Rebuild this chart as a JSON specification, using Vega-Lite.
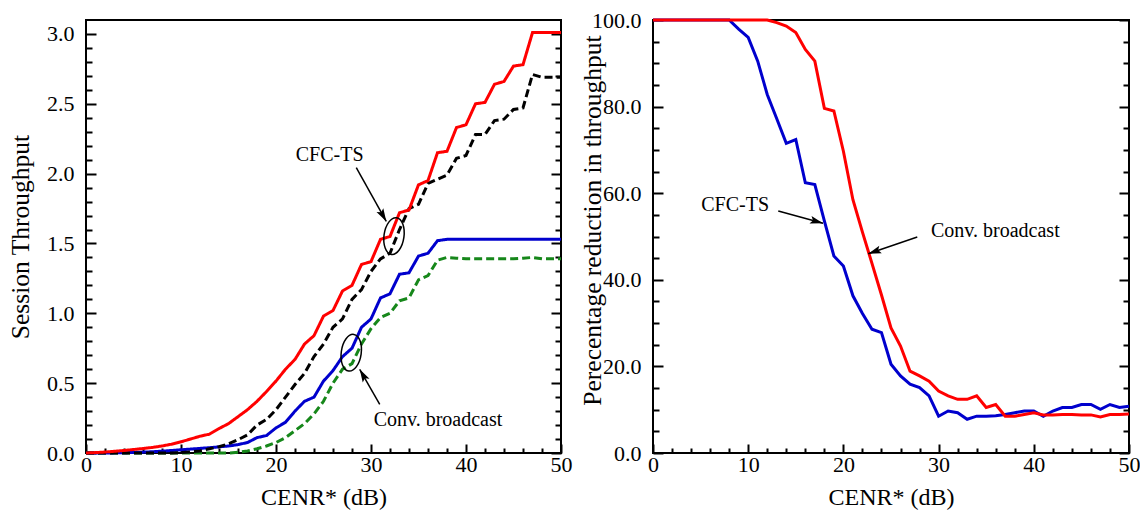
{
  "$schema": "https://vega.github.io/schema/vega-lite/v6.json",
  "background": "white",
  "padding": {"left": 7, "top": 8, "right": 0, "bottom": 0},
  "spacing": 5,
  "config": {
    "font": "Liberation Serif",
    "text": {"font": "Liberation Serif"},
    "view": {"stroke": "black", "strokeWidth": 2},
    "axis": {"domain": false, "grid": false, "tickColor": "black", "tickWidth": 2, "labelColor": "black", "titleColor": "black", "labelFont": "Liberation Serif", "titleFont": "Liberation Serif", "labelFontSize": 22, "titleFontSize": 25.5, "titleFontWeight": "normal", "labelFlush": false, "labelOverlap": false}
  },
  "datasets": {
    "left": [
      {"x":0,"y":0,"s":"Conv. broadcast (dashed)"},{"x":1,"y":0,"s":"Conv. broadcast (dashed)"},{"x":2,"y":0,"s":"Conv. broadcast (dashed)"},{"x":3,"y":0,"s":"Conv. broadcast (dashed)"},{"x":4,"y":0,"s":"Conv. broadcast (dashed)"},{"x":5,"y":0,"s":"Conv. broadcast (dashed)"},{"x":6,"y":0,"s":"Conv. broadcast (dashed)"},{"x":7,"y":0,"s":"Conv. broadcast (dashed)"},{"x":8,"y":0,"s":"Conv. broadcast (dashed)"},{"x":9,"y":0,"s":"Conv. broadcast (dashed)"},{"x":10,"y":0,"s":"Conv. broadcast (dashed)"},{"x":11,"y":0,"s":"Conv. broadcast (dashed)"},{"x":12,"y":0,"s":"Conv. broadcast (dashed)"},{"x":13,"y":0,"s":"Conv. broadcast (dashed)"},{"x":14,"y":0,"s":"Conv. broadcast (dashed)"},{"x":15,"y":0,"s":"Conv. broadcast (dashed)"},{"x":16,"y":0.005,"s":"Conv. broadcast (dashed)"},{"x":17,"y":0.015,"s":"Conv. broadcast (dashed)"},{"x":18,"y":0.03,"s":"Conv. broadcast (dashed)"},{"x":19,"y":0.05,"s":"Conv. broadcast (dashed)"},{"x":20,"y":0.075,"s":"Conv. broadcast (dashed)"},{"x":21,"y":0.11,"s":"Conv. broadcast (dashed)"},{"x":22,"y":0.16,"s":"Conv. broadcast (dashed)"},{"x":23,"y":0.21,"s":"Conv. broadcast (dashed)"},{"x":24,"y":0.28,"s":"Conv. broadcast (dashed)"},{"x":25,"y":0.37,"s":"Conv. broadcast (dashed)"},{"x":26,"y":0.5,"s":"Conv. broadcast (dashed)"},{"x":27,"y":0.6,"s":"Conv. broadcast (dashed)"},{"x":28,"y":0.64,"s":"Conv. broadcast (dashed)"},{"x":29,"y":0.78,"s":"Conv. broadcast (dashed)"},{"x":30,"y":0.89,"s":"Conv. broadcast (dashed)"},{"x":31,"y":0.97,"s":"Conv. broadcast (dashed)"},{"x":32,"y":1.0,"s":"Conv. broadcast (dashed)"},{"x":33,"y":1.09,"s":"Conv. broadcast (dashed)"},{"x":34,"y":1.11,"s":"Conv. broadcast (dashed)"},{"x":35,"y":1.24,"s":"Conv. broadcast (dashed)"},{"x":36,"y":1.27,"s":"Conv. broadcast (dashed)"},{"x":37,"y":1.38,"s":"Conv. broadcast (dashed)"},{"x":38,"y":1.4,"s":"Conv. broadcast (dashed)"},{"x":39,"y":1.395,"s":"Conv. broadcast (dashed)"},{"x":40,"y":1.39,"s":"Conv. broadcast (dashed)"},{"x":41,"y":1.39,"s":"Conv. broadcast (dashed)"},{"x":42,"y":1.39,"s":"Conv. broadcast (dashed)"},{"x":43,"y":1.39,"s":"Conv. broadcast (dashed)"},{"x":44,"y":1.39,"s":"Conv. broadcast (dashed)"},{"x":45,"y":1.39,"s":"Conv. broadcast (dashed)"},{"x":46,"y":1.395,"s":"Conv. broadcast (dashed)"},{"x":47,"y":1.4,"s":"Conv. broadcast (dashed)"},{"x":48,"y":1.39,"s":"Conv. broadcast (dashed)"},{"x":49,"y":1.39,"s":"Conv. broadcast (dashed)"},{"x":50,"y":1.39,"s":"Conv. broadcast (dashed)"},
      {"x":0,"y":0,"s":"Conv. broadcast (solid)"},{"x":1,"y":0,"s":"Conv. broadcast (solid)"},{"x":2,"y":0,"s":"Conv. broadcast (solid)"},{"x":3,"y":0.001,"s":"Conv. broadcast (solid)"},{"x":4,"y":0.002,"s":"Conv. broadcast (solid)"},{"x":5,"y":0.004,"s":"Conv. broadcast (solid)"},{"x":6,"y":0.006,"s":"Conv. broadcast (solid)"},{"x":7,"y":0.009,"s":"Conv. broadcast (solid)"},{"x":8,"y":0.013,"s":"Conv. broadcast (solid)"},{"x":9,"y":0.018,"s":"Conv. broadcast (solid)"},{"x":10,"y":0.023,"s":"Conv. broadcast (solid)"},{"x":11,"y":0.028,"s":"Conv. broadcast (solid)"},{"x":12,"y":0.033,"s":"Conv. broadcast (solid)"},{"x":13,"y":0.038,"s":"Conv. broadcast (solid)"},{"x":14,"y":0.044,"s":"Conv. broadcast (solid)"},{"x":15,"y":0.05,"s":"Conv. broadcast (solid)"},{"x":16,"y":0.06,"s":"Conv. broadcast (solid)"},{"x":17,"y":0.075,"s":"Conv. broadcast (solid)"},{"x":18,"y":0.11,"s":"Conv. broadcast (solid)"},{"x":19,"y":0.125,"s":"Conv. broadcast (solid)"},{"x":20,"y":0.18,"s":"Conv. broadcast (solid)"},{"x":21,"y":0.22,"s":"Conv. broadcast (solid)"},{"x":22,"y":0.3,"s":"Conv. broadcast (solid)"},{"x":23,"y":0.37,"s":"Conv. broadcast (solid)"},{"x":24,"y":0.4,"s":"Conv. broadcast (solid)"},{"x":25,"y":0.515,"s":"Conv. broadcast (solid)"},{"x":26,"y":0.59,"s":"Conv. broadcast (solid)"},{"x":27,"y":0.69,"s":"Conv. broadcast (solid)"},{"x":28,"y":0.75,"s":"Conv. broadcast (solid)"},{"x":29,"y":0.9,"s":"Conv. broadcast (solid)"},{"x":30,"y":0.96,"s":"Conv. broadcast (solid)"},{"x":31,"y":1.11,"s":"Conv. broadcast (solid)"},{"x":32,"y":1.14,"s":"Conv. broadcast (solid)"},{"x":33,"y":1.28,"s":"Conv. broadcast (solid)"},{"x":34,"y":1.29,"s":"Conv. broadcast (solid)"},{"x":35,"y":1.41,"s":"Conv. broadcast (solid)"},{"x":36,"y":1.43,"s":"Conv. broadcast (solid)"},{"x":37,"y":1.52,"s":"Conv. broadcast (solid)"},{"x":38,"y":1.53,"s":"Conv. broadcast (solid)"},{"x":39,"y":1.53,"s":"Conv. broadcast (solid)"},{"x":40,"y":1.53,"s":"Conv. broadcast (solid)"},{"x":41,"y":1.53,"s":"Conv. broadcast (solid)"},{"x":42,"y":1.53,"s":"Conv. broadcast (solid)"},{"x":43,"y":1.53,"s":"Conv. broadcast (solid)"},{"x":44,"y":1.53,"s":"Conv. broadcast (solid)"},{"x":45,"y":1.53,"s":"Conv. broadcast (solid)"},{"x":46,"y":1.53,"s":"Conv. broadcast (solid)"},{"x":47,"y":1.53,"s":"Conv. broadcast (solid)"},{"x":48,"y":1.53,"s":"Conv. broadcast (solid)"},{"x":49,"y":1.53,"s":"Conv. broadcast (solid)"},{"x":50,"y":1.53,"s":"Conv. broadcast (solid)"},
      {"x":0,"y":0,"s":"CFC-TS (dashed)"},{"x":1,"y":0,"s":"CFC-TS (dashed)"},{"x":2,"y":0,"s":"CFC-TS (dashed)"},{"x":3,"y":0,"s":"CFC-TS (dashed)"},{"x":4,"y":0,"s":"CFC-TS (dashed)"},{"x":5,"y":0,"s":"CFC-TS (dashed)"},{"x":6,"y":0,"s":"CFC-TS (dashed)"},{"x":7,"y":0,"s":"CFC-TS (dashed)"},{"x":8,"y":0,"s":"CFC-TS (dashed)"},{"x":9,"y":0,"s":"CFC-TS (dashed)"},{"x":10,"y":0.003,"s":"CFC-TS (dashed)"},{"x":11,"y":0.008,"s":"CFC-TS (dashed)"},{"x":12,"y":0.015,"s":"CFC-TS (dashed)"},{"x":13,"y":0.03,"s":"CFC-TS (dashed)"},{"x":14,"y":0.045,"s":"CFC-TS (dashed)"},{"x":15,"y":0.065,"s":"CFC-TS (dashed)"},{"x":16,"y":0.095,"s":"CFC-TS (dashed)"},{"x":17,"y":0.13,"s":"CFC-TS (dashed)"},{"x":18,"y":0.2,"s":"CFC-TS (dashed)"},{"x":19,"y":0.24,"s":"CFC-TS (dashed)"},{"x":20,"y":0.31,"s":"CFC-TS (dashed)"},{"x":21,"y":0.4,"s":"CFC-TS (dashed)"},{"x":22,"y":0.49,"s":"CFC-TS (dashed)"},{"x":23,"y":0.57,"s":"CFC-TS (dashed)"},{"x":24,"y":0.69,"s":"CFC-TS (dashed)"},{"x":25,"y":0.78,"s":"CFC-TS (dashed)"},{"x":26,"y":0.9,"s":"CFC-TS (dashed)"},{"x":27,"y":0.96,"s":"CFC-TS (dashed)"},{"x":28,"y":1.1,"s":"CFC-TS (dashed)"},{"x":29,"y":1.17,"s":"CFC-TS (dashed)"},{"x":30,"y":1.3,"s":"CFC-TS (dashed)"},{"x":31,"y":1.39,"s":"CFC-TS (dashed)"},{"x":32,"y":1.43,"s":"CFC-TS (dashed)"},{"x":33,"y":1.6,"s":"CFC-TS (dashed)"},{"x":34,"y":1.75,"s":"CFC-TS (dashed)"},{"x":35,"y":1.78,"s":"CFC-TS (dashed)"},{"x":36,"y":1.93,"s":"CFC-TS (dashed)"},{"x":37,"y":1.96,"s":"CFC-TS (dashed)"},{"x":38,"y":1.99,"s":"CFC-TS (dashed)"},{"x":39,"y":2.11,"s":"CFC-TS (dashed)"},{"x":40,"y":2.13,"s":"CFC-TS (dashed)"},{"x":41,"y":2.28,"s":"CFC-TS (dashed)"},{"x":42,"y":2.28,"s":"CFC-TS (dashed)"},{"x":43,"y":2.38,"s":"CFC-TS (dashed)"},{"x":44,"y":2.39,"s":"CFC-TS (dashed)"},{"x":45,"y":2.46,"s":"CFC-TS (dashed)"},{"x":46,"y":2.47,"s":"CFC-TS (dashed)"},{"x":47,"y":2.71,"s":"CFC-TS (dashed)"},{"x":48,"y":2.69,"s":"CFC-TS (dashed)"},{"x":49,"y":2.69,"s":"CFC-TS (dashed)"},{"x":50,"y":2.69,"s":"CFC-TS (dashed)"},
      {"x":0,"y":0,"s":"CFC-TS (solid)"},{"x":1,"y":0.003,"s":"CFC-TS (solid)"},{"x":2,"y":0.007,"s":"CFC-TS (solid)"},{"x":3,"y":0.012,"s":"CFC-TS (solid)"},{"x":4,"y":0.018,"s":"CFC-TS (solid)"},{"x":5,"y":0.025,"s":"CFC-TS (solid)"},{"x":6,"y":0.032,"s":"CFC-TS (solid)"},{"x":7,"y":0.04,"s":"CFC-TS (solid)"},{"x":8,"y":0.05,"s":"CFC-TS (solid)"},{"x":9,"y":0.063,"s":"CFC-TS (solid)"},{"x":10,"y":0.08,"s":"CFC-TS (solid)"},{"x":11,"y":0.1,"s":"CFC-TS (solid)"},{"x":12,"y":0.12,"s":"CFC-TS (solid)"},{"x":13,"y":0.135,"s":"CFC-TS (solid)"},{"x":14,"y":0.175,"s":"CFC-TS (solid)"},{"x":15,"y":0.21,"s":"CFC-TS (solid)"},{"x":16,"y":0.26,"s":"CFC-TS (solid)"},{"x":17,"y":0.31,"s":"CFC-TS (solid)"},{"x":18,"y":0.37,"s":"CFC-TS (solid)"},{"x":19,"y":0.44,"s":"CFC-TS (solid)"},{"x":20,"y":0.515,"s":"CFC-TS (solid)"},{"x":21,"y":0.6,"s":"CFC-TS (solid)"},{"x":22,"y":0.67,"s":"CFC-TS (solid)"},{"x":23,"y":0.78,"s":"CFC-TS (solid)"},{"x":24,"y":0.84,"s":"CFC-TS (solid)"},{"x":25,"y":0.98,"s":"CFC-TS (solid)"},{"x":26,"y":1.02,"s":"CFC-TS (solid)"},{"x":27,"y":1.16,"s":"CFC-TS (solid)"},{"x":28,"y":1.2,"s":"CFC-TS (solid)"},{"x":29,"y":1.35,"s":"CFC-TS (solid)"},{"x":30,"y":1.37,"s":"CFC-TS (solid)"},{"x":31,"y":1.53,"s":"CFC-TS (solid)"},{"x":32,"y":1.55,"s":"CFC-TS (solid)"},{"x":33,"y":1.72,"s":"CFC-TS (solid)"},{"x":34,"y":1.74,"s":"CFC-TS (solid)"},{"x":35,"y":1.92,"s":"CFC-TS (solid)"},{"x":36,"y":1.95,"s":"CFC-TS (solid)"},{"x":37,"y":2.15,"s":"CFC-TS (solid)"},{"x":38,"y":2.16,"s":"CFC-TS (solid)"},{"x":39,"y":2.33,"s":"CFC-TS (solid)"},{"x":40,"y":2.35,"s":"CFC-TS (solid)"},{"x":41,"y":2.5,"s":"CFC-TS (solid)"},{"x":42,"y":2.51,"s":"CFC-TS (solid)"},{"x":43,"y":2.64,"s":"CFC-TS (solid)"},{"x":44,"y":2.66,"s":"CFC-TS (solid)"},{"x":45,"y":2.77,"s":"CFC-TS (solid)"},{"x":46,"y":2.78,"s":"CFC-TS (solid)"},{"x":47,"y":3.01,"s":"CFC-TS (solid)"},{"x":48,"y":3.01,"s":"CFC-TS (solid)"},{"x":49,"y":3.01,"s":"CFC-TS (solid)"},{"x":50,"y":3.01,"s":"CFC-TS (solid)"}
    ],
    "right": [
      {"x":0,"y":100,"s":"CFC-TS"},{"x":1,"y":100,"s":"CFC-TS"},{"x":2,"y":100,"s":"CFC-TS"},{"x":3,"y":100,"s":"CFC-TS"},{"x":4,"y":100,"s":"CFC-TS"},{"x":5,"y":100,"s":"CFC-TS"},{"x":6,"y":100,"s":"CFC-TS"},{"x":7,"y":100,"s":"CFC-TS"},{"x":8,"y":100,"s":"CFC-TS"},{"x":9,"y":97.9,"s":"CFC-TS"},{"x":10,"y":96,"s":"CFC-TS"},{"x":11,"y":90.5,"s":"CFC-TS"},{"x":12,"y":82.8,"s":"CFC-TS"},{"x":13,"y":77.2,"s":"CFC-TS"},{"x":14,"y":71.5,"s":"CFC-TS"},{"x":15,"y":72.4,"s":"CFC-TS"},{"x":16,"y":62.4,"s":"CFC-TS"},{"x":17,"y":62,"s":"CFC-TS"},{"x":18,"y":53.6,"s":"CFC-TS"},{"x":19,"y":45.5,"s":"CFC-TS"},{"x":20,"y":43.2,"s":"CFC-TS"},{"x":21,"y":36.3,"s":"CFC-TS"},{"x":22,"y":32.2,"s":"CFC-TS"},{"x":23,"y":28.6,"s":"CFC-TS"},{"x":24,"y":27.8,"s":"CFC-TS"},{"x":25,"y":20.5,"s":"CFC-TS"},{"x":26,"y":17.8,"s":"CFC-TS"},{"x":27,"y":15.9,"s":"CFC-TS"},{"x":28,"y":15.1,"s":"CFC-TS"},{"x":29,"y":13.2,"s":"CFC-TS"},{"x":30,"y":8.5,"s":"CFC-TS"},{"x":31,"y":9.7,"s":"CFC-TS"},{"x":32,"y":9.3,"s":"CFC-TS"},{"x":33,"y":7.8,"s":"CFC-TS"},{"x":34,"y":8.5,"s":"CFC-TS"},{"x":35,"y":8.5,"s":"CFC-TS"},{"x":36,"y":8.6,"s":"CFC-TS"},{"x":37,"y":8.9,"s":"CFC-TS"},{"x":38,"y":9.3,"s":"CFC-TS"},{"x":39,"y":9.7,"s":"CFC-TS"},{"x":40,"y":9.7,"s":"CFC-TS"},{"x":41,"y":8.5,"s":"CFC-TS"},{"x":42,"y":9.7,"s":"CFC-TS"},{"x":43,"y":10.5,"s":"CFC-TS"},{"x":44,"y":10.5,"s":"CFC-TS"},{"x":45,"y":11.2,"s":"CFC-TS"},{"x":46,"y":11.2,"s":"CFC-TS"},{"x":47,"y":10.1,"s":"CFC-TS"},{"x":48,"y":11.2,"s":"CFC-TS"},{"x":49,"y":10.5,"s":"CFC-TS"},{"x":50,"y":10.8,"s":"CFC-TS"},
      {"x":0,"y":100,"s":"Conv. broadcast"},{"x":1,"y":100,"s":"Conv. broadcast"},{"x":2,"y":100,"s":"Conv. broadcast"},{"x":3,"y":100,"s":"Conv. broadcast"},{"x":4,"y":100,"s":"Conv. broadcast"},{"x":5,"y":100,"s":"Conv. broadcast"},{"x":6,"y":100,"s":"Conv. broadcast"},{"x":7,"y":100,"s":"Conv. broadcast"},{"x":8,"y":100,"s":"Conv. broadcast"},{"x":9,"y":100,"s":"Conv. broadcast"},{"x":10,"y":100,"s":"Conv. broadcast"},{"x":11,"y":100,"s":"Conv. broadcast"},{"x":12,"y":100,"s":"Conv. broadcast"},{"x":13,"y":99.4,"s":"Conv. broadcast"},{"x":14,"y":98.6,"s":"Conv. broadcast"},{"x":15,"y":97.1,"s":"Conv. broadcast"},{"x":16,"y":93.2,"s":"Conv. broadcast"},{"x":17,"y":90.5,"s":"Conv. broadcast"},{"x":18,"y":79.6,"s":"Conv. broadcast"},{"x":19,"y":79.0,"s":"Conv. broadcast"},{"x":20,"y":69.7,"s":"Conv. broadcast"},{"x":21,"y":58.5,"s":"Conv. broadcast"},{"x":22,"y":51,"s":"Conv. broadcast"},{"x":23,"y":43.8,"s":"Conv. broadcast"},{"x":24,"y":36.5,"s":"Conv. broadcast"},{"x":25,"y":28.9,"s":"Conv. broadcast"},{"x":26,"y":24.7,"s":"Conv. broadcast"},{"x":27,"y":18.9,"s":"Conv. broadcast"},{"x":28,"y":17.8,"s":"Conv. broadcast"},{"x":29,"y":16.6,"s":"Conv. broadcast"},{"x":30,"y":14.3,"s":"Conv. broadcast"},{"x":31,"y":13.2,"s":"Conv. broadcast"},{"x":32,"y":12.4,"s":"Conv. broadcast"},{"x":33,"y":12.4,"s":"Conv. broadcast"},{"x":34,"y":13.2,"s":"Conv. broadcast"},{"x":35,"y":10.5,"s":"Conv. broadcast"},{"x":36,"y":11.2,"s":"Conv. broadcast"},{"x":37,"y":8.5,"s":"Conv. broadcast"},{"x":38,"y":8.5,"s":"Conv. broadcast"},{"x":39,"y":8.9,"s":"Conv. broadcast"},{"x":40,"y":9.3,"s":"Conv. broadcast"},{"x":41,"y":8.8,"s":"Conv. broadcast"},{"x":42,"y":8.8,"s":"Conv. broadcast"},{"x":43,"y":8.9,"s":"Conv. broadcast"},{"x":44,"y":8.9,"s":"Conv. broadcast"},{"x":45,"y":8.8,"s":"Conv. broadcast"},{"x":46,"y":8.8,"s":"Conv. broadcast"},{"x":47,"y":8.3,"s":"Conv. broadcast"},{"x":48,"y":8.9,"s":"Conv. broadcast"},{"x":49,"y":8.9,"s":"Conv. broadcast"},{"x":50,"y":9.0,"s":"Conv. broadcast"}
    ],
    "texts": [
      {"panel":"left","label":"CFC-TS","x":25.65,"y":2.137},
      {"panel":"left","label":"Conv. broadcast","x":37.05,"y":0.234},
      {"panel":"right","label":"CFC-TS","x":8.63,"y":57.23},
      {"panel":"right","label":"Conv. broadcast","x":35.96,"y":51.27}
    ],
    "arrows": [
      {"panel":"left","id":"cfc","x":28.45,"y":2.043,"x2":31.61,"y2":1.658},
      {"panel":"left","id":"conv","x":30.92,"y":0.349,"x2":28.81,"y2":0.599},
      {"panel":"right","id":"cfc","x":13.16,"y":55.89,"x2":17.86,"y2":53.05},
      {"panel":"right","id":"conv","x":27.76,"y":49.88,"x2":22.61,"y2":46.03}
    ],
    "ellipses": [
      {"panel":"left","id":"cfc","x":32.42,"y":1.553},
      {"panel":"left","id":"conv","x":27.92,"y":0.718}
    ]
  },
  "hconcat": [
    {
      "width": 475,
      "height": 433,
      "layer": [
        {
          "data": {"name": "left"},
          "mark": {"type": "line", "strokeWidth": 3},
          "encoding": {
            "x": {"field": "x", "type": "quantitative", "scale": {"domain": [0, 50], "nice": false, "zero": false},
              "axis": {"orient": "bottom", "values": [0, 10, 20, 30, 40, 50], "format": "d", "tickSize": -9, "labelPadding": 10, "title": "CENR* (dB)", "titleFontSize": 24, "titlePadding": 10}},
            "y": {"field": "y", "type": "quantitative", "scale": {"domain": [0, 3.1], "nice": false},
              "axis": {"orient": "left", "values": [0, 0.5, 1, 1.5, 2, 2.5, 3], "format": ".1f", "tickSize": -10, "labelPadding": 22, "title": "Session Throughput", "titlePadding": 13}},
            "color": {"field": "s", "type": "nominal", "legend": null,
              "scale": {"domain": ["Conv. broadcast (dashed)", "Conv. broadcast (solid)", "CFC-TS (dashed)", "CFC-TS (solid)"], "range": ["#16871a", "#0000cd", "#000000", "#ff0000"]}},
            "strokeDash": {"field": "s", "type": "nominal", "legend": null,
              "scale": {"domain": ["Conv. broadcast (dashed)", "Conv. broadcast (solid)", "CFC-TS (dashed)", "CFC-TS (solid)"], "range": [[8, 4], [1, 0], [8, 4], [1, 0]]}}
          }
        },
        {
          "data": {"name": "texts"},
          "transform": [{"filter": "datum.panel == 'left'"}],
          "mark": {"type": "text", "fontSize": 20, "font": "Liberation Serif", "color": "black", "baseline": "middle", "align": "center"},
          "encoding": {
            "x": {"field": "x", "type": "quantitative", "axis": {"orient": "bottom", "values": [2,4,6,8,12,14,16,18,22,24,26,28,32,34,36,38,42,44,46,48], "tickSize": -5, "labels": false, "title": null}},
            "y": {"field": "y", "type": "quantitative", "axis": {"orient": "left", "values": [0.1,0.2,0.3,0.4,0.6,0.7,0.8,0.9,1.1,1.2,1.3,1.4,1.6,1.7,1.8,1.9,2.1,2.2,2.3,2.4,2.6,2.7,2.8,2.9], "tickSize": -6, "labels": false, "title": null}},
            "text": {"field": "label", "type": "nominal"}
          }
        },
        {
          "data": {"name": "arrows"},
          "transform": [{"filter": "datum.panel == 'left'"}],
          "mark": {"type": "rule", "strokeWidth": 1.5, "color": "black"},
          "encoding": {
            "x": {"field": "x", "type": "quantitative", "axis": null},
            "y": {"field": "y", "type": "quantitative", "axis": {"orient": "right", "values": [0, 0.5, 1, 1.5, 2, 2.5, 3], "tickSize": -10, "labels": false, "title": null}},
            "x2": {"field": "x2"},
            "y2": {"field": "y2"}
          }
        },
        {
          "data": {"name": "ellipses"},
          "transform": [{"filter": "datum.panel == 'left'"}],
          "mark": {"type": "point", "shape": "M0,-1 A0.54,1 0 1,1 0,1 A0.54,1 0 1,1 0,-1 Z", "size": 1369, "angle": 8, "filled": false, "stroke": "black", "strokeWidth": 1.5, "opacity": 1},
          "encoding": {
            "x": {"field": "x", "type": "quantitative", "axis": null},
            "y": {"field": "y", "type": "quantitative", "axis": {"orient": "right", "values": [0.1,0.2,0.3,0.4,0.6,0.7,0.8,0.9,1.1,1.2,1.3,1.4,1.6,1.7,1.8,1.9,2.1,2.2,2.3,2.4,2.6,2.7,2.8,2.9], "tickSize": -6, "labels": false, "title": null}}
          }
        },
        {
          "data": {"name": "arrows"},
          "transform": [{"filter": "datum.panel == 'left' && datum.id == 'cfc'"}],
          "mark": {"type": "point", "shape": "M0,0 L0.6,2 L0,1.6 L-0.6,2 Z", "size": 169, "angle": 150.6, "filled": true, "color": "black", "opacity": 1},
          "encoding": {
            "x": {"field": "x2", "type": "quantitative", "axis": null},
            "y": {"field": "y2", "type": "quantitative", "axis": null}
          }
        },
        {
          "data": {"name": "arrows"},
          "transform": [{"filter": "datum.panel == 'left' && datum.id == 'conv'"}],
          "mark": {"type": "point", "shape": "M0,0 L0.6,2 L0,1.6 L-0.6,2 Z", "size": 169, "angle": 330.3, "filled": true, "color": "black", "opacity": 1},
          "encoding": {
            "x": {"field": "x2", "type": "quantitative", "axis": null},
            "y": {"field": "y2", "type": "quantitative", "axis": null}
          }
        }
      ],
      "resolve": {"axis": {"x": "independent", "y": "independent"}}
    },
    {
      "width": 476,
      "height": 433,
      "layer": [
        {
          "data": {"name": "right"},
          "mark": {"type": "line", "strokeWidth": 3},
          "encoding": {
            "x": {"field": "x", "type": "quantitative", "scale": {"domain": [0, 50], "nice": false, "zero": false},
              "axis": {"orient": "bottom", "values": [0, 10, 20, 30, 40, 50], "format": "d", "tickSize": -9, "labelPadding": 10, "title": "CENR* (dB)", "titleFontSize": 24, "titlePadding": 10}},
            "y": {"field": "y", "type": "quantitative", "scale": {"domain": [0, 100], "nice": false},
              "axis": {"orient": "left", "values": [0, 20, 40, 60, 80, 100], "format": ".1f", "tickSize": -10, "labelPadding": 22, "title": "Perecentage reduction in throughput", "titleX": -48, "titleY": 200}},
            "color": {"field": "s", "type": "nominal", "legend": null,
              "scale": {"domain": ["CFC-TS", "Conv. broadcast"], "range": ["#0000cd", "#ff0000"]}}
          }
        },
        {
          "data": {"name": "texts"},
          "transform": [{"filter": "datum.panel == 'right'"}],
          "mark": {"type": "text", "fontSize": 20, "font": "Liberation Serif", "color": "black", "baseline": "middle", "align": "center"},
          "encoding": {
            "x": {"field": "x", "type": "quantitative", "axis": {"orient": "bottom", "values": [2,4,6,8,12,14,16,18,22,24,26,28,32,34,36,38,42,44,46,48], "tickSize": -5, "labels": false, "title": null}},
            "y": {"field": "y", "type": "quantitative", "axis": {"orient": "left", "values": [5,10,15,25,30,35,45,50,55,65,70,75,85,90,95], "tickSize": -6, "labels": false, "title": null}},
            "text": {"field": "label", "type": "nominal"}
          }
        },
        {
          "data": {"name": "arrows"},
          "transform": [{"filter": "datum.panel == 'right'"}],
          "mark": {"type": "rule", "strokeWidth": 1.5, "color": "black"},
          "encoding": {
            "x": {"field": "x", "type": "quantitative", "axis": null},
            "y": {"field": "y", "type": "quantitative", "axis": {"orient": "right", "values": [0, 20, 40, 60, 80, 100], "tickSize": -10, "labels": false, "title": null}},
            "x2": {"field": "x2"},
            "y2": {"field": "y2"}
          }
        },
        {
          "data": {"name": "arrows"},
          "transform": [{"filter": "datum.panel == 'right' && datum.id == 'cfc'"}],
          "mark": {"type": "point", "shape": "M0,0 L0.6,2 L0,1.6 L-0.6,2 Z", "size": 169, "angle": 105.4, "filled": true, "color": "black", "opacity": 1},
          "encoding": {
            "x": {"field": "x2", "type": "quantitative", "axis": null},
            "y": {"field": "y2", "type": "quantitative", "axis": {"orient": "right", "values": [5,10,15,25,30,35,45,50,55,65,70,75,85,90,95], "tickSize": -6, "labels": false, "title": null}}
          }
        },
        {
          "data": {"name": "arrows"},
          "transform": [{"filter": "datum.panel == 'right' && datum.id == 'conv'"}],
          "mark": {"type": "point", "shape": "M0,0 L0.6,2 L0,1.6 L-0.6,2 Z", "size": 169, "angle": 251.2, "filled": true, "color": "black", "opacity": 1},
          "encoding": {
            "x": {"field": "x2", "type": "quantitative", "axis": null},
            "y": {"field": "y2", "type": "quantitative", "axis": null}
          }
        }
      ],
      "resolve": {"axis": {"x": "independent", "y": "independent"}}
    }
  ],
  "resolve": {"scale": {"color": "independent", "strokeDash": "independent"}}
}
